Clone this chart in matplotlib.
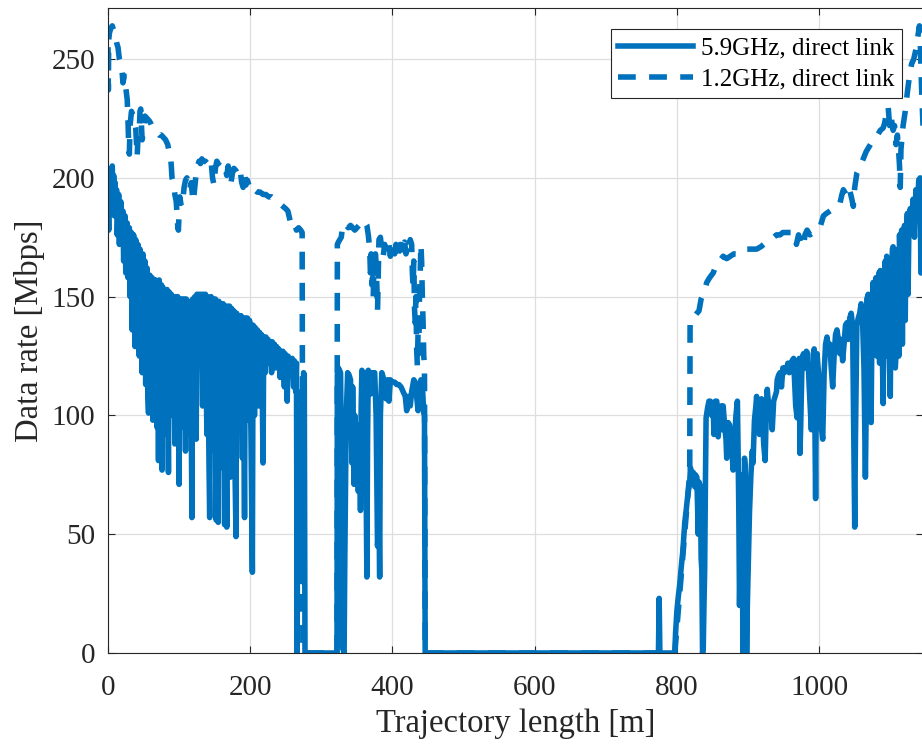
import matplotlib
matplotlib.use('Agg')
import matplotlib.pyplot as plt

plt.rcParams['font.family'] = ['Liberation Serif', 'DejaVu Serif']

# 5.9 GHz direct link : (trajectory length [m], data rate [Mbps])
rate59_a = [
    (0, 192), (1, 178), (2, 200), (3, 186), (4, 204), (5, 195), (6, 205), (7, 190), (8, 201), (9, 184),
    (10, 198), (11, 186), (12, 195), (13, 176), (15, 193), (16, 172), (18, 190), (19, 175), (21, 186),
    (22, 165), (24, 184), (25, 160), (27, 181), (28, 158), (30, 179), (31, 150), (33, 177), (34, 136),
    (36, 176), (38, 129), (39, 174), (41, 140), (42, 172), (44, 125), (45, 170), (47, 130), (48, 118),
    (49, 168), (51, 122), (52, 165), (53, 113), (55, 162), (56, 108), (57, 101), (59, 159), (60, 112),
    (62, 158), (63, 98), (65, 157), (66, 120), (67, 157), (69, 95), (70, 156), (71, 81), (72, 157),
    (74, 105), (75, 155), (76, 77), (77, 154), (79, 110), (80, 153), (82, 92), (83, 153), (85, 76),
    (86, 152), (88, 100), (89, 151), (91, 118), (92, 150), (94, 88), (95, 150), (97, 110), (98, 150),
    (100, 71), (101, 149), (103, 95), (104, 149), (106, 122), (107, 149), (109, 85), (110, 149),
    (112, 105), (113, 148), (115, 92), (116, 148), (118, 57), (119, 149), (121, 112), (122, 150),
    (124, 90), (125, 151), (127, 128), (128, 151), (130, 135), (131, 151), (133, 104), (134, 151),
    (136, 115), (137, 151), (139, 92), (140, 150), (142, 80), (143, 57), (145, 150), (147, 98),
    (148, 149), (150, 85), (151, 149), (152, 56), (154, 148), (155, 55), (156, 148), (158, 90),
    (159, 147), (161, 78), (162, 147), (164, 54), (165, 146), (167, 53), (168, 146), (170, 96),
    (171, 146), (172, 74), (174, 145), (175, 100), (177, 144), (178, 88), (180, 49), (181, 143),
    (183, 95), (184, 142), (186, 105), (187, 142), (189, 82), (190, 141), (192, 57), (193, 141),
    (195, 98), (196, 141), (198, 110), (199, 140), (201, 92), (203, 34), (204, 138), (206, 100),
    (207, 137), (209, 115), (210, 136), (212, 104), (213, 135), (215, 120), (216, 134), (218, 80),
    (219, 133), (221, 118), (222, 133), (224, 125), (225, 132), (227, 122), (228, 131), (230, 118),
    (231, 131), (233, 126), (234, 130), (236, 120), (237, 129), (239, 124), (240, 128), (242, 116),
    (243, 127), (245, 121), (246, 127), (248, 112), (249, 126), (251, 118), (252, 106), (253, 125),
    (255, 118), (256, 124), (258, 120), (259, 124), (261, 112), (262, 123), (264, 110), (265, 122),
    (266, 0), (267, 110), (268, 40), (270, 38), (271, 105), (273, 30), (275, 118), (276, 117),
    (277, 0), (278, 0),
]
rate59_b = [
    (322, 0), (322.5, 117), (324, 120), (327, 118), (329, 60), (330, 2), (332, 0), (333, 40),
    (335, 100), (337, 118), (339, 117), (341, 115), (342, 100), (343, 80), (344, 112), (346, 71),
    (347, 100), (349, 75), (350, 96), (352, 68), (354, 90), (355, 60), (356, 104), (357, 119),
    (359, 118), (361, 115), (362, 118), (363, 70), (364, 32), (365, 90), (366, 119), (368, 112),
    (369, 109), (371, 118), (373, 117), (375, 118), (377, 100), (379, 45), (381, 60), (382, 32),
    (383, 100), (385, 118), (387, 116), (389, 110), (391, 107), (393, 115), (395, 106), (397, 115),
    (400, 114), (403, 114), (406, 113), (409, 113), (412, 112), (415, 110), (418, 108), (420, 102),
    (422, 108), (425, 104), (427, 110), (430, 115), (432, 114), (434, 108), (436, 102), (438, 110),
    (440, 115), (442, 113), (444, 101), (445, 100), (446, 0),
]
rate59_c = [(774, 0), (775, 23), (776, 0)]
rate59_d = [
    (797, 0), (798, 8), (800, 18), (802, 24), (804, 29), (806, 36), (808, 42), (809, 46), (811, 55),
    (813, 60), (814, 63), (816, 68), (818, 72), (819, 78), (821, 74), (823, 76), (825, 70), (826, 75),
    (828, 74), (829, 62), (830, 50), (831, 72), (833, 70), (834, 40), (835, 35), (836, 0), (837, 2),
    (838, 20), (839, 35), (840, 70), (841, 99), (843, 103), (845, 106), (847, 106), (849, 100),
    (851, 104), (852, 92), (854, 106), (856, 106), (857, 95), (858, 91), (860, 100), (862, 104),
    (864, 94), (865, 104), (867, 96), (869, 90), (870, 82), (872, 97), (874, 96), (876, 88), (878, 82),
    (879, 77), (881, 90), (883, 100), (885, 106), (886, 85), (887, 60), (888, 20), (889, 40), (891, 75),
    (893, 0), (894, 30), (895, 82), (896, 78), (897, 40), (898, 0), (899, 20), (901, 45), (902, 59),
    (904, 75), (906, 85), (907, 80), (909, 98), (911, 104), (912, 108), (914, 102), (916, 92),
    (917, 100), (919, 107), (921, 95), (922, 88), (924, 81), (926, 106), (927, 111), (929, 104),
    (931, 100), (933, 98), (934, 94), (936, 106), (938, 108), (940, 110), (941, 115), (943, 117),
    (945, 118), (947, 112), (949, 120), (951, 118), (952, 120), (954, 119), (956, 122), (958, 118),
    (960, 122), (962, 123), (964, 124), (966, 110), (967, 104), (969, 99), (970, 116), (972, 124),
    (973, 84), (974, 95), (976, 124), (978, 126), (980, 120), (982, 127), (984, 126), (986, 112),
    (988, 100), (989, 94), (991, 110), (993, 128), (994, 95), (995, 65), (996, 110), (997, 126),
    (999, 118), (1001, 112), (1003, 95), (1005, 90), (1007, 118), (1009, 130), (1011, 133),
    (1013, 128), (1015, 130), (1017, 120), (1019, 112), (1021, 125), (1023, 134), (1025, 136),
    (1027, 132), (1029, 126), (1031, 132), (1033, 123), (1035, 130), (1037, 138), (1039, 139),
    (1041, 132), (1043, 141), (1045, 143), (1047, 138), (1048, 110), (1050, 53), (1051, 90),
    (1053, 138), (1055, 141), (1057, 143), (1059, 147), (1061, 140), (1063, 120), (1065, 74),
    (1066, 100), (1067, 149), (1069, 151), (1071, 140), (1073, 97), (1074, 130), (1076, 156),
    (1077, 128), (1078, 150), (1080, 158), (1081, 125), (1082, 145), (1084, 160), (1085, 122),
    (1086, 161), (1088, 140), (1090, 105), (1091, 150), (1093, 165), (1094, 125), (1095, 167),
    (1097, 150), (1099, 120), (1100, 108), (1101, 150), (1103, 170), (1104, 171), (1106, 140),
    (1107, 120), (1109, 130), (1111, 170), (1112, 125), (1113, 176), (1115, 150), (1116, 178),
    (1117, 130), (1118, 165), (1120, 180), (1121, 140), (1122, 170), (1124, 185), (1125, 151),
    (1126, 175), (1128, 187), (1130, 180), (1132, 191), (1134, 175), (1136, 195), (1138, 185),
    (1140, 199), (1142, 200), (1143, 160), (1146, 160),
]

# 1.2 GHz direct link
rate12_a = [
    (0, 255), (0.5, 237), (1, 258), (2, 261), (4, 263), (6, 264), (8, 262), (10, 260), (12, 257),
    (14, 255), (16, 250), (18, 248), (20, 244), (21, 240), (23, 243), (25, 238), (27, 233), (28, 225),
    (29, 215), (30, 210), (31, 222), (33, 228), (35, 226), (37, 224), (39, 221), (40, 215), (41, 209),
    (42, 216), (44, 220), (45, 228), (46, 229), (47, 222), (48, 216), (50, 220), (52, 226), (55, 225),
    (58, 224), (60, 223), (63, 221), (66, 220), (69, 219), (72, 218), (75, 218), (78, 217), (81, 216),
    (84, 214), (86, 211), (88, 209), (89, 205), (90, 200), (92, 198), (94, 193), (96, 190), (97, 185),
    (98, 180), (99, 178), (100, 186), (101, 192), (103, 188), (105, 190), (107, 196), (109, 199),
    (111, 200), (113, 197), (115, 195), (117, 198), (119, 192), (120, 190), (122, 196), (124, 202),
    (126, 205), (128, 207), (130, 206), (132, 208), (134, 207), (137, 207), (140, 206), (143, 208),
    (145, 207), (147, 200), (149, 197), (151, 204), (153, 207), (155, 206), (158, 207), (160, 206),
    (163, 205), (165, 204), (167, 201), (169, 205), (171, 200), (173, 198), (175, 202), (177, 204),
    (180, 203), (183, 201), (186, 203), (188, 198), (190, 196), (192, 202), (194, 197), (196, 199),
    (198, 197), (200, 198), (203, 196), (206, 195), (210, 194), (214, 194), (218, 193), (222, 193),
    (226, 192), (230, 192), (234, 191), (238, 190), (242, 189), (246, 188), (250, 187), (253, 186),
    (256, 182), (259, 180), (262, 181), (265, 178), (268, 179), (271, 178), (273, 177), (274, 0),
]
rate12_b = [
    (322, 0), (322.5, 172), (324, 173), (326, 174), (328, 175), (330, 180), (332, 181), (335, 180),
    (338, 179), (341, 180), (344, 179), (347, 178), (350, 179), (353, 180), (356, 180), (359, 179),
    (362, 181), (364, 180), (366, 176), (368, 170), (369, 160), (370, 168), (371, 155), (372, 158),
    (373, 150), (374, 165), (375, 160), (376, 168), (377, 164), (378, 155), (379, 144), (380, 160),
    (381, 174), (383, 175), (385, 170), (387, 167), (389, 172), (391, 170), (393, 168), (395, 172),
    (397, 167), (399, 171), (401, 173), (403, 168), (405, 172), (407, 167), (409, 170), (411, 172),
    (413, 168), (415, 171), (417, 173), (419, 168), (421, 172), (423, 170), (425, 174), (427, 172),
    (428, 160), (429, 154), (430, 165), (431, 145), (432, 139), (433, 150), (434, 128), (435, 121),
    (436, 135), (437, 126), (438, 150), (439, 160), (440, 172), (441, 165), (442, 150), (443, 140),
    (444, 125), (445, 121), (446, 0),
]
rate12_d = [
    (797, 0), (818, 76), (818.5, 140), (823, 141), (828, 143), (831, 144), (834, 149), (837, 151),
    (840, 154), (842, 156), (846, 158), (851, 160), (856, 164), (860, 165), (865, 167), (870, 166),
    (875, 167), (880, 168), (885, 168), (890, 169), (895, 169), (898, 170), (903, 170), (908, 170),
    (912, 170), (918, 171), (922, 172), (926, 173), (930, 174), (936, 175), (940, 176), (945, 176),
    (949, 177), (955, 177), (960, 177), (963, 177), (966, 175), (968, 172), (971, 176), (975, 172),
    (978, 171), (980, 176), (983, 178), (987, 176), (992, 177), (996, 178), (1001, 179), (1004, 182),
    (1006, 184), (1010, 185), (1015, 186), (1020, 187), (1025, 188), (1029, 189), (1032, 193),
    (1034, 195), (1038, 193), (1042, 196), (1046, 191), (1048, 188), (1050, 196), (1053, 202),
    (1058, 205), (1062, 208), (1066, 211), (1070, 213), (1076, 216), (1082, 218), (1086, 220),
    (1090, 221), (1092, 223), (1095, 228), (1097, 230), (1099, 222), (1101, 226), (1104, 220),
    (1106, 222), (1108, 214), (1110, 218), (1112, 210), (1113, 205), (1114, 196), (1115, 212),
    (1118, 222), (1121, 228), (1124, 236), (1127, 243), (1130, 248), (1133, 250), (1136, 254),
    (1139, 260), (1141, 264), (1142, 258), (1143, 248), (1144, 238), (1145, 230), (1146, 222),
]

x_ticks = [0, 200, 400, 600, 800, 1000]
y_ticks = [0, 50, 100, 150, 200, 250]
labels = ['5.9GHz, direct link', '1.2GHz, direct link']

link59 = rate59_a + rate59_b + rate59_c + rate59_d
link12 = rate12_a + rate12_b + rate12_d

blue = '#0072BD'
dark = '#262626'

fig = plt.figure(figsize=(9.22, 7.46), dpi=100)
ax = fig.add_axes([108 / 922, 93 / 746, 815 / 922, 645 / 746])

ax.plot([p[0] for p in link59], [p[1] for p in link59], color=blue, lw=4.0,
        solid_joinstyle='round', label=labels[0])
ax.plot([p[0] for p in link12], [p[1] for p in link12], color=blue, lw=4.0,
        dashes=(3.2, 2.4), dash_capstyle='butt', dash_joinstyle='round', label=labels[1])

ax.set_xlim(0, 1146)
ax.set_ylim(0, 271.5)
ax.set_xticks(x_ticks)
ax.set_yticks(y_ticks)
ax.grid(True, color='#dedede', lw=0.9)
ax.set_axisbelow(True)
ax.tick_params(direction='in', length=5, width=0.8, top=True, right=True,
               labelsize=21, colors=dark, pad=9)
ax.tick_params(axis='x', pad=16)
for s in ax.spines.values():
    s.set_color(dark)
    s.set_linewidth(0.8)

ax.set_xlabel('Trajectory length [m]', fontsize=23.5, color=dark, labelpad=5)
ax.set_ylabel('Data rate [Mbps]', fontsize=23.5, color=dark, labelpad=5)

leg = ax.legend(loc='upper right', fontsize=18, frameon=True, fancybox=False, framealpha=1,
                edgecolor=dark, handlelength=3.0, handletextpad=0.3, borderpad=0.3,
                labelspacing=0.36, borderaxespad=0.85)
leg.get_frame().set_linewidth(0.8)

fig.savefig('out.png', dpi=100)
